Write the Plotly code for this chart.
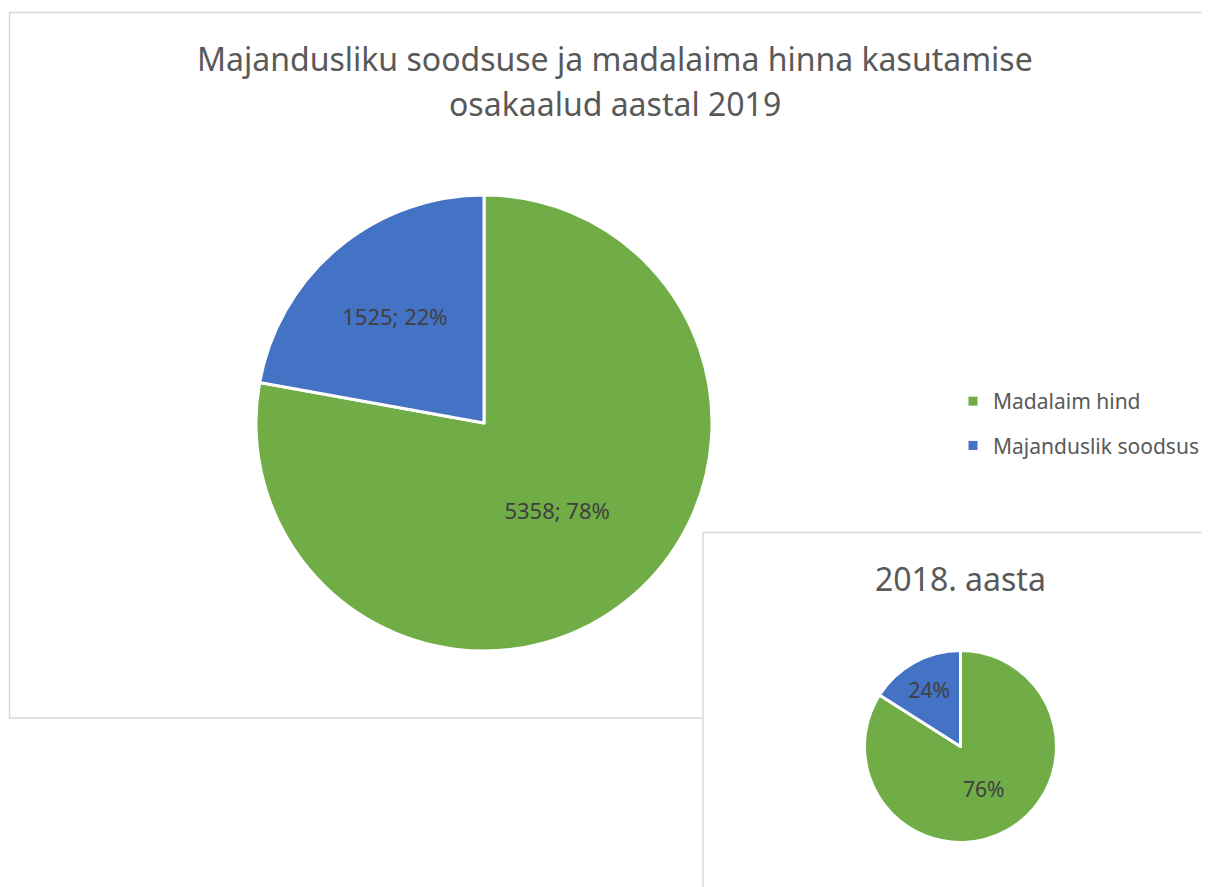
import plotly.graph_objects as go

# Data
categories = ["Madalaim hind", "Majanduslik soodsus"]
counts_2019 = [5358, 1525]
# 2018 inset: slice shares as drawn, with printed labels
shares_2018 = [84, 16]
labels_2018 = ["76%", "24%"]
colors = ["#70AD47", "#4472C4"]

title_main_lines = ["Majandusliku soodsuse ja madalaima hinna kasutamise",
                    "osakaalud aastal 2019"]
title_inset = "2018. aasta"

# page has an 8px body margin; figure fills the rest of the window
OFF = 8
W, H = 1210 - OFF, 887 - OFF
FONT = "Noto Sans"
TXT = "#595959"

def px_x(x):
    return (x - OFF) / W

def px_y(y):
    return 1 - (y - OFF) / H

fig = go.Figure()

fig.add_trace(go.Pie(
    labels=categories, values=counts_2019,
    marker=dict(colors=colors, line=dict(color="white", width=3)),
    sort=False, direction="clockwise", rotation=0,
    texttemplate="%{value}; %{percent:.0%}",
    textposition="inside", insidetextorientation="horizontal",
    textfont=dict(family=FONT, size=22, color="#404040"),
    domain=dict(x=[px_x(256), px_x(712)], y=[px_y(651), px_y(195)]),
    showlegend=False, hoverinfo="label+value+percent",
))

fig.add_trace(go.Pie(
    labels=categories, values=shares_2018, text=labels_2018,
    marker=dict(colors=colors, line=dict(color="white", width=3)),
    sort=False, direction="clockwise", rotation=0,
    texttemplate="%{text}",
    textposition="inside", insidetextorientation="horizontal",
    textfont=dict(family=FONT, size=21, color="#404040"),
    domain=dict(x=[px_x(864.5), px_x(1056.5)], y=[px_y(842.5), px_y(650.5)]),
    showlegend=False, hoverinfo="label+text",
))

# Legend entries
for cat, col in zip(categories, colors):
    fig.add_trace(go.Scatter(
        x=[None], y=[None], mode="markers", name=cat, legendgroup=cat,
        marker=dict(symbol="square", size=9, color=col),
        showlegend=True,
    ))

annotations = [
    dict(text=title_main_lines[0], x=px_x(615), y=px_y(58)),
    dict(text=title_main_lines[1], x=px_x(615), y=px_y(103)),
    dict(text=title_inset, x=px_x(960), y=px_y(578)),
]
for a in annotations:
    a.update(xref="paper", yref="paper", xanchor="center", yanchor="middle",
             showarrow=False, font=dict(family=FONT, size=32, color=TXT))

fig.update_layout(
    width=W, height=H,
    margin=dict(l=0, r=0, t=0, b=0),
    paper_bgcolor="white", plot_bgcolor="white",
    xaxis=dict(visible=False, domain=[0.98, 1.0]),
    yaxis=dict(visible=False, domain=[0.98, 1.0]),
    legend=dict(
        x=px_x(953), y=px_y(381), xanchor="left", yanchor="top",
        font=dict(family=FONT, size=21, color=TXT),
        tracegroupgap=14, bgcolor="rgba(0,0,0,0)", itemwidth=30,
    ),
    shapes=[
        dict(type="rect", xref="paper", yref="paper",
             x0=px_x(9.5), x1=px_x(1225), y0=px_y(718), y1=px_y(12.5),
             line=dict(color="#D9D9D9", width=1.5), fillcolor="white", layer="below"),
        dict(type="rect", xref="paper", yref="paper",
             x0=px_x(703), x1=px_x(1225), y0=px_y(900), y1=px_y(532.5),
             line=dict(color="#D9D9D9", width=1.5), fillcolor="white", layer="below"),
    ],
    annotations=annotations,
)

fig.write_html("out.html")
